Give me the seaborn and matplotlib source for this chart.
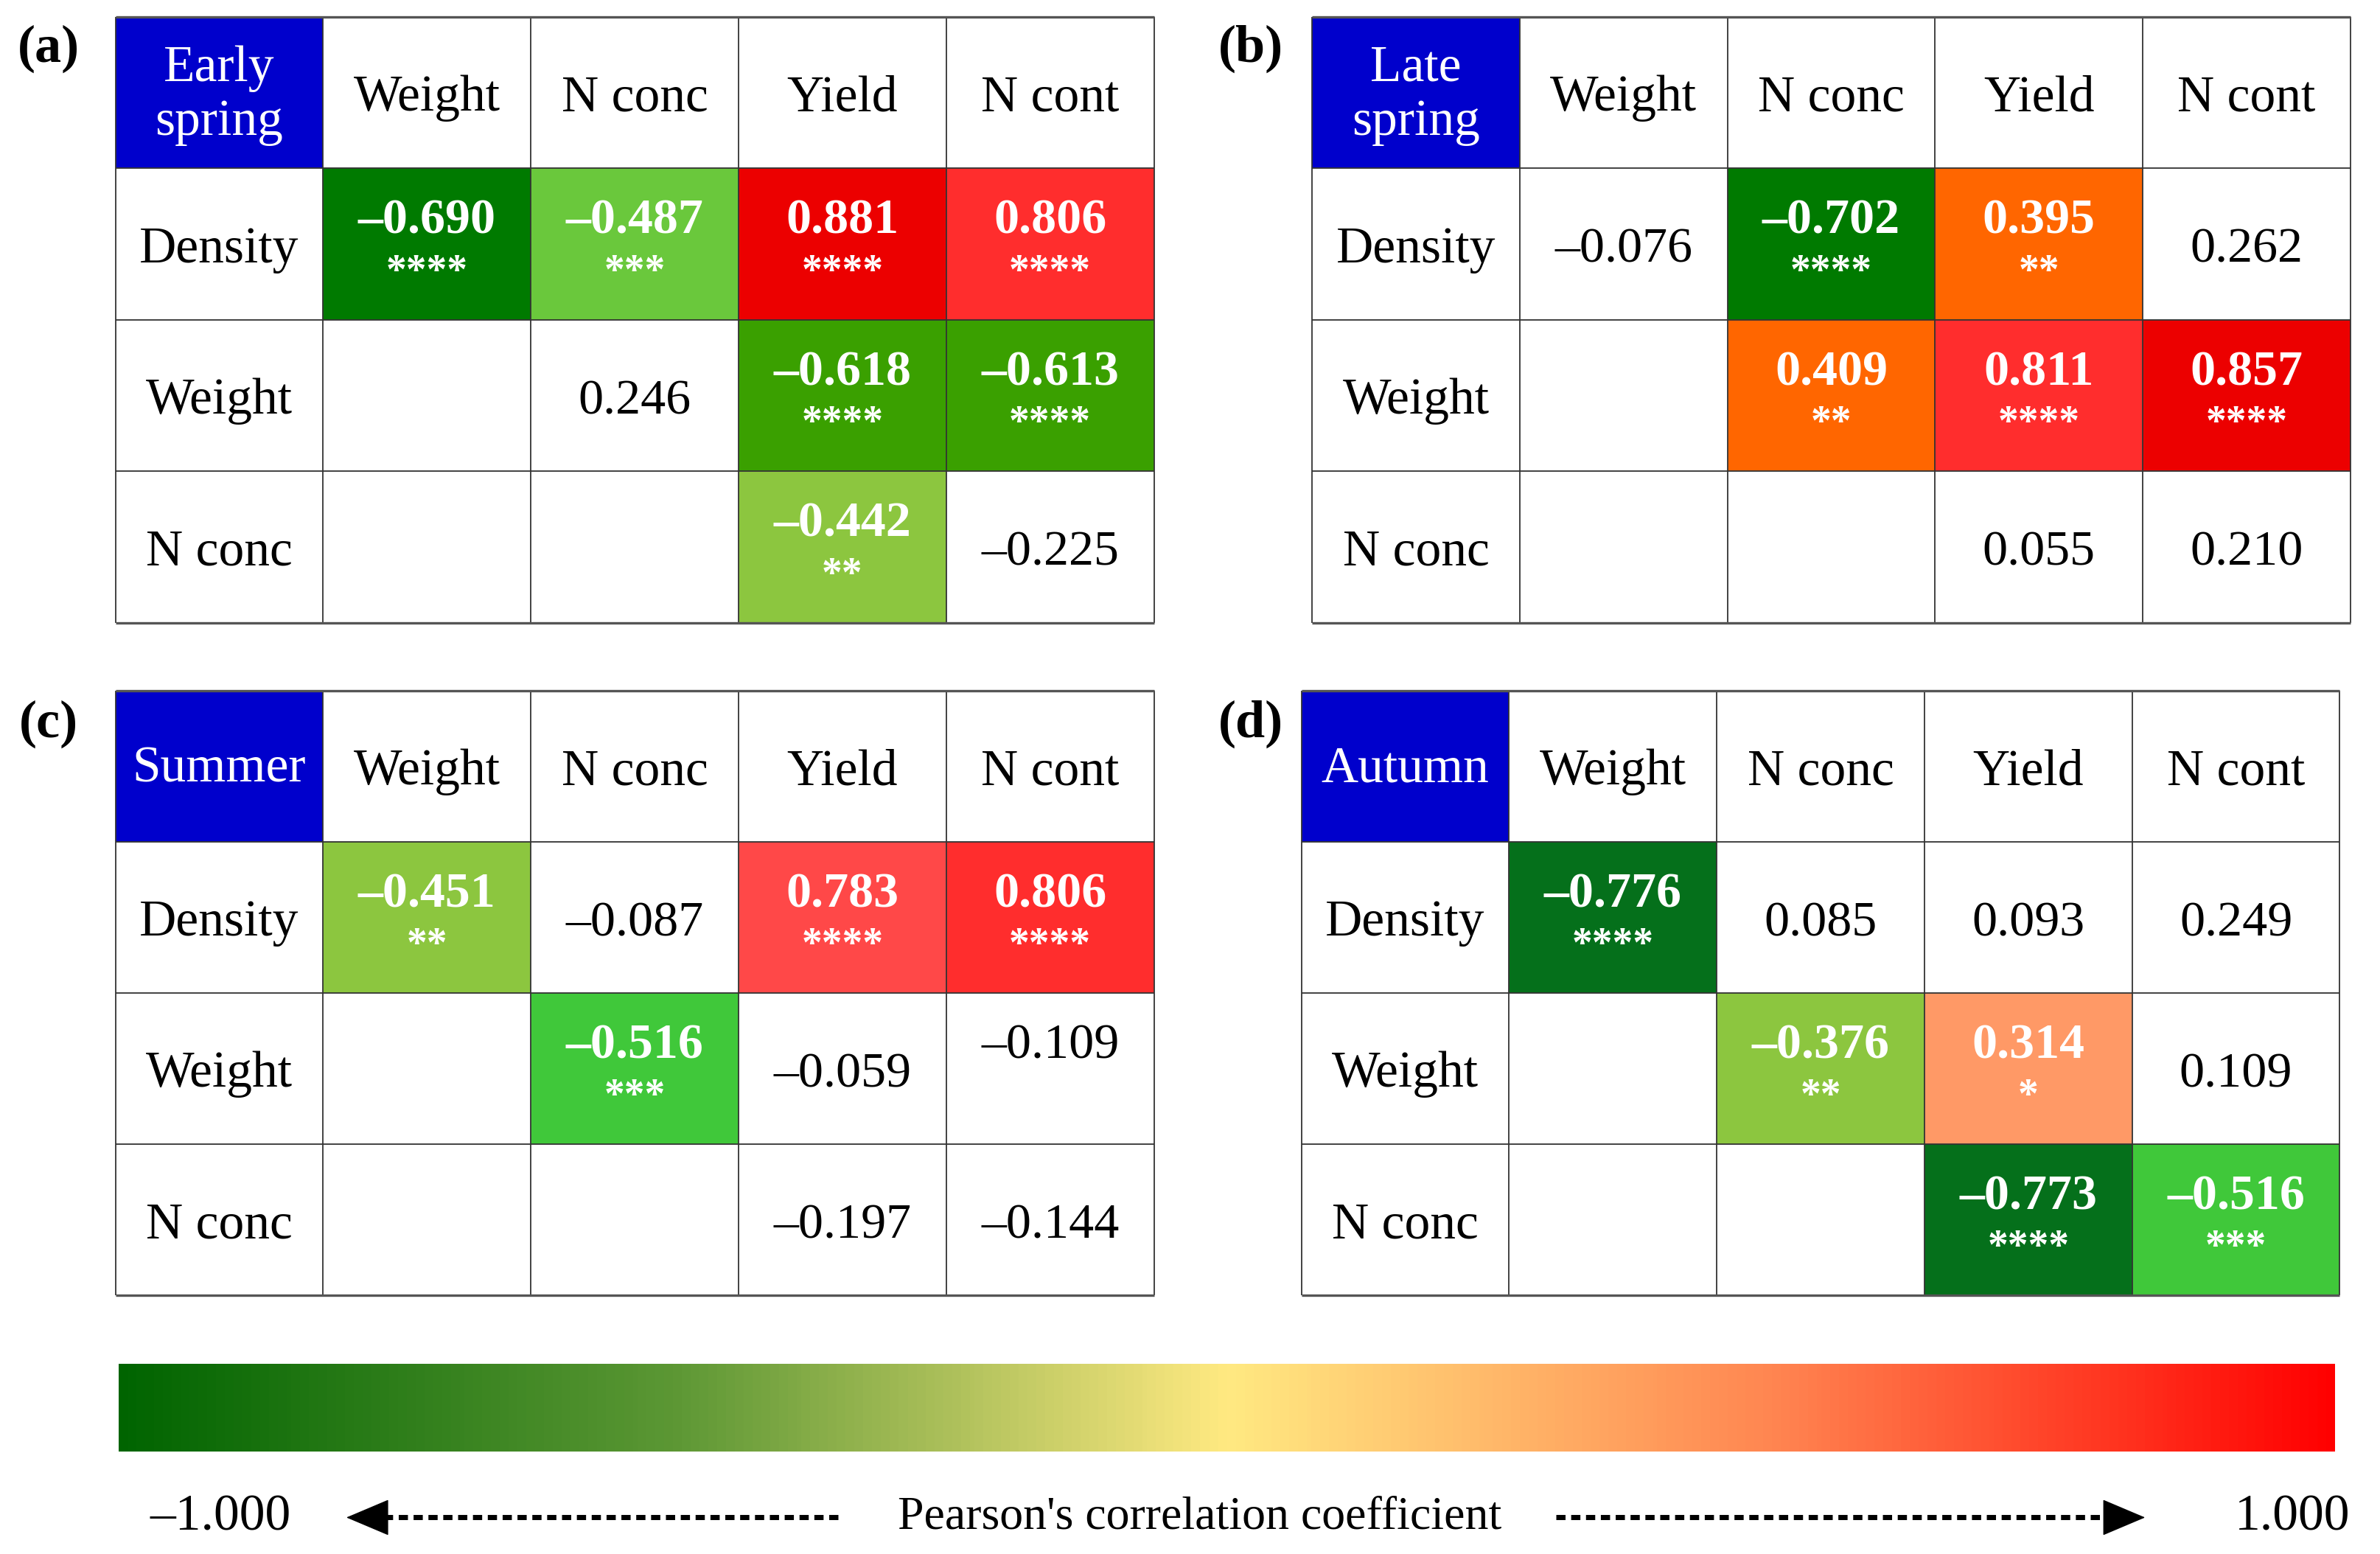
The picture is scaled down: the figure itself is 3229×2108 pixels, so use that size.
import numpy as np
import seaborn as sns
import matplotlib.pyplot as plt
import matplotlib.colors as colors
from matplotlib.patches import Rectangle

plt.rcParams['font.family'] = ['Liberation Serif', 'DejaVu Serif']

nan = np.nan

ROW_NAMES = ['Density', 'Weight', 'N conc']
COL_NAMES = ['Weight', 'N conc', 'Yield', 'N cont']
SEASONS = ['Early\nspring', 'Late\nspring', 'Summer', 'Autumn']
PANEL_TAGS = ['(a)', '(b)', '(c)', '(d)']

r_early = [[-0.690, -0.487, 0.881, 0.806],
           [nan, 0.246, -0.618, -0.613],
           [nan, nan, -0.442, -0.225]]
sig_early = [['****', '***', '****', '****'],
             ['', '', '****', '****'],
             ['', '', '**', '']]

r_late = [[-0.076, -0.702, 0.395, 0.262],
          [nan, 0.409, 0.811, 0.857],
          [nan, nan, 0.055, 0.210]]
sig_late = [['', '****', '**', ''],
            ['', '**', '****', '****'],
            ['', '', '', '']]

r_summer = [[-0.451, -0.087, 0.783, 0.806],
            [nan, -0.516, -0.059, -0.109],
            [nan, nan, -0.197, -0.144]]
sig_summer = [['**', '', '****', '****'],
              ['', '***', '', ''],
              ['', '', '', '']]

r_autumn = [[-0.776, 0.085, 0.093, 0.249],
            [nan, -0.376, 0.314, 0.109],
            [nan, nan, -0.773, -0.516]]
sig_autumn = [['****', '', '', ''],
              ['', '**', '*', ''],
              ['', '', '****', '***']]

R_VALUES = [r_early, r_late, r_summer, r_autumn]
STARS = [sig_early, sig_late, sig_summer, sig_autumn]
# cells whose (non significant) value sits in the upper text slot
LIFTED = [[], [], [(1, 3)], []]

# colour classes used for significant cells
CELL_BOUNDS = [-1, -0.74, -0.65, -0.55, -0.5, -0.47, -0.3, 0.3, 0.35, 0.6, 0.795, 0.84, 1]
CELL_COLORS = ['#05701B', '#007A00', '#3AA000', '#40C83A', '#6AC83C', '#8CC63F',
               '#FFFFFF', '#FF9966', '#FF6600', '#FF4848', '#FF2D2D', '#EC0000']
cell_cmap = colors.ListedColormap(CELL_COLORS)
cell_norm = colors.BoundaryNorm(CELL_BOUNDS, cell_cmap.N)

bar_cmap = colors.LinearSegmentedColormap.from_list(
    'pearson', [(0, '#006400'), (0.25, '#5C9734'), (0.5, '#FFE981'),
                (0.75, '#FF8450'), (1, '#FF0000')])

HEADER_BLUE = '#0000CC'
LINE = '#333333'

fig = plt.figure(figsize=(32.3, 21.08), dpi=100)

panel_boxes = [[0.0485, 0.5993, 0.4362, 0.3900],
               [0.5511, 0.5993, 0.4362, 0.3900],
               [0.0485, 0.1665, 0.4362, 0.3890],
               [0.5466, 0.1665, 0.4362, 0.3890]]
tag_pos = [(0.0204, 0.9687), (0.5255, 0.9687), (0.0204, 0.534), (0.5255, 0.534)]

for k in range(4):
    vals = np.array(R_VALUES[k], dtype=float)
    stars = np.array(STARS[k])

    grid = np.full((4, 5), np.nan)
    grid[1:, 1:] = vals
    mask = np.ones((4, 5), dtype=bool)
    mask[1:, 1:] = (stars == '')

    ax = fig.add_axes(panel_boxes[k])
    sns.heatmap(grid, mask=mask, cmap=cell_cmap, norm=cell_norm, cbar=False,
                xticklabels=False, yticklabels=False, ax=ax)
    ax.add_patch(Rectangle((0, 0), 1, 1, facecolor=HEADER_BLUE, edgecolor='none', zorder=1))

    # grid lines
    ax.vlines(range(6), 0, 4, colors=LINE, lw=1.3, zorder=3, clip_on=False)
    ax.hlines(range(1, 4), 0, 5, colors=LINE, lw=1.3, zorder=3, clip_on=False)
    ax.hlines([0, 4], 0, 5, colors='#555555', lw=2.4, zorder=3, clip_on=False)

    ax.text(0.5, 0.52, SEASONS[k], ha='center', va='center', color='white',
            fontsize=50, linespacing=1.2, zorder=4)
    for j, name in enumerate(COL_NAMES):
        ax.text(j + 1.5, 0.54, name, ha='center', va='center', fontsize=50, zorder=4)
    for i, name in enumerate(ROW_NAMES):
        ax.text(0.5, i + 1.54, name, ha='center', va='center', fontsize=50, zorder=4)

    for i in range(3):
        for j in range(4):
            v = vals[i, j]
            if np.isnan(v):
                continue
            label = f'{v:.3f}'.replace('-', '\u2013')
            if stars[i, j]:
                ax.text(j + 1.5, i + 1.35, label, ha='center', va='center', color='white',
                        fontsize=49, fontweight='bold', zorder=4)
                ax.text(j + 1.5, i + 1.69, stars[i, j], ha='center', va='center',
                        color='white', fontsize=40, fontweight='bold', zorder=4)
            else:
                y = i + 1.35 if (i, j) in LIFTED[k] else i + 1.54
                ax.text(j + 1.5, y, label, ha='center', va='center', color='black',
                        fontsize=49, zorder=4)

    fig.text(tag_pos[k][0], tag_pos[k][1], PANEL_TAGS[k], ha='center', va='center',
             fontsize=52, fontweight='bold')

# colour scale bar
cax = fig.add_axes([0.0498, 0.0658, 0.9311, 0.0567])
sns.heatmap(np.linspace(-1, 1, 500)[None, :], cmap=bar_cmap, vmin=-1, vmax=1,
            cbar=False, xticklabels=False, yticklabels=False, ax=cax)

# bottom labels and arrows
ov = fig.add_axes([0, 0, 1, 1])
ov.set_xlim(0, 1)
ov.set_ylim(0, 1)
ov.axis('off')
ov.patch.set_alpha(0)
y_lab = 0.0235
ov.text(0.0925, y_lab, '\u20131.000', ha='center', va='center', fontsize=50)
ov.text(0.963, y_lab, '1.000', ha='center', va='center', fontsize=50)
ov.text(0.504, y_lab, "Pearson's correlation coefficient", ha='center', va='center', fontsize=46)

for tail, head in [(0.352, 0.1455), (0.6537, 0.901)]:
    step = 0.009 if head < tail else -0.009
    ov.plot([tail, head + step], [y_lab, y_lab], color='black', lw=5,
            dashes=(1.8, 1.1), solid_capstyle='butt')
    ov.annotate('', xy=(head, y_lab), xytext=(head + step, y_lab),
                arrowprops=dict(arrowstyle='-|>,head_length=1.3,head_width=0.55',
                                color='black', lw=1, shrinkA=0, shrinkB=0,
                                mutation_scale=30))

fig.savefig('out.png', dpi=100)
